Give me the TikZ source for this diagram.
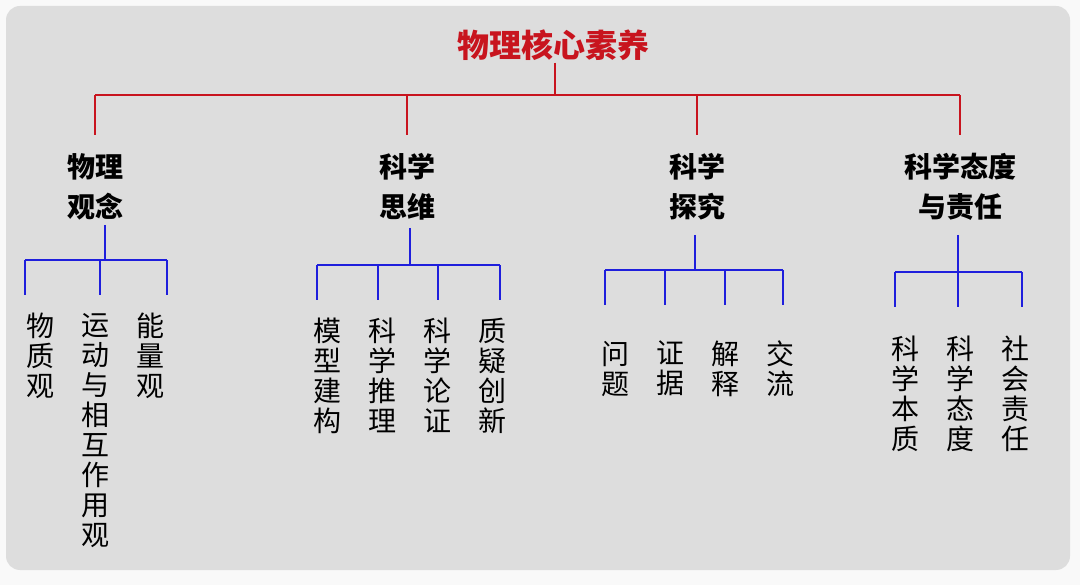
\documentclass[tikz,border=0pt]{standalone}
\usepackage{fontspec}
\newfontfamily\cjk{Noto Sans CJK SC}
\usetikzlibrary{positioning}
\definecolor{bgray}{RGB}{221,221,221}
\definecolor{tred}{RGB}{200,20,30}
\definecolor{lblue}{RGB}{30,30,220}
\tikzset{
  title/.style={font=\cjk\bfseries\fontsize{32}{36}\selectfont, text=tred, inner sep=2pt},
  cat/.style={font=\cjk\bfseries\fontsize{28}{40}\selectfont, align=center, inner sep=0pt},
  leaf/.style={font=\cjk\fontsize{28}{30}\selectfont, align=center, anchor=north, inner sep=0pt},
  redline/.style={draw=tred, line width=2.6pt},
  blueline/.style={draw=lblue, line width=2.4pt}
}
\begin{document}
\begin{tikzpicture}[x=1pt,y=-1pt]
  \useasboundingbox (0,0) rectangle (1080,585);
  \fill[white!95!gray] (0,0) rectangle (1080,585);
  \fill[bgray, rounded corners=14pt] (6,6) rectangle (1070,570); %panel

  %title and first level
  \node[title] (top) at (553,45) {物理核心素养};
  \node[cat] (c1) at (95,187) {物理\\观念};
  \node[cat] (c2) at (407,187) {科学\\思维};
  \node[cat] (c3) at (697,187) {科学\\探究};
  \node[cat] (c4) at (960,187) {科学态度\\与责任};
  \coordinate (j0) at (555,95);
  \coordinate (e0) at (0,135);
  \draw[redline] (top.south -| j0) -- (j0);
  \draw[redline] (c1.north |- j0) -- (c4.north |- j0);
  \foreach \c in {c1,c2,c3,c4}
    \draw[redline] (\c.north |- j0) -- (\c.north |- e0);

  %leaves
  \node[leaf] (l11) at (40,313) {物\\质\\观};
  \node[leaf] (l12) at (95,313) {运\\动\\与\\相\\互\\作\\用\\观};
  \node[leaf] (l13) at (150,313) {能\\量\\观};
  \node[leaf] (l21) at (327,318) {模\\型\\建\\构};
  \node[leaf] (l22) at (382,318) {科\\学\\推\\理};
  \node[leaf] (l23) at (437,318) {科\\学\\论\\证};
  \node[leaf] (l24) at (492,318) {质\\疑\\创\\新};
  \node[leaf] (l31) at (615,341) {问\\题};
  \node[leaf] (l32) at (670,341) {证\\据};
  \node[leaf] (l33) at (725,341) {解\\释};
  \node[leaf] (l34) at (780,341) {交\\流};
  \node[leaf] (l41) at (905,336) {科\\学\\本\\质};
  \node[leaf] (l42) at (960,336) {科\\学\\态\\度};
  \node[leaf] (l43) at (1015,336) {社\\会\\责\\任};

  %blue trees
  \coordinate (b1) at (105,260);
  \draw[blueline] (105,225) -- (b1);
  \draw[blueline] (25,260) -- (167,260);
  \foreach \x in {25,100,167} \draw[blueline] (\x,260) -- (\x,295);
  \coordinate (b2) at (410,265);
  \draw[blueline] (410,228) -- (b2);
  \draw[blueline] (317,265) -- (500,265);
  \foreach \x in {317,378,438,500} \draw[blueline] (\x,265) -- (\x,300);
  \coordinate (b3) at (695,270);
  \draw[blueline] (695,235) -- (b3);
  \draw[blueline] (605,270) -- (783,270);
  \foreach \x in {605,665,725,783} \draw[blueline] (\x,270) -- (\x,305);
  \coordinate (b4) at (958,272);
  \draw[blueline] (958,235) -- (b4);
  \draw[blueline] (895,272) -- (1022,272);
  \foreach \x in {895,958,1022} \draw[blueline] (\x,272) -- (\x,307);
\end{tikzpicture}
\end{document}
